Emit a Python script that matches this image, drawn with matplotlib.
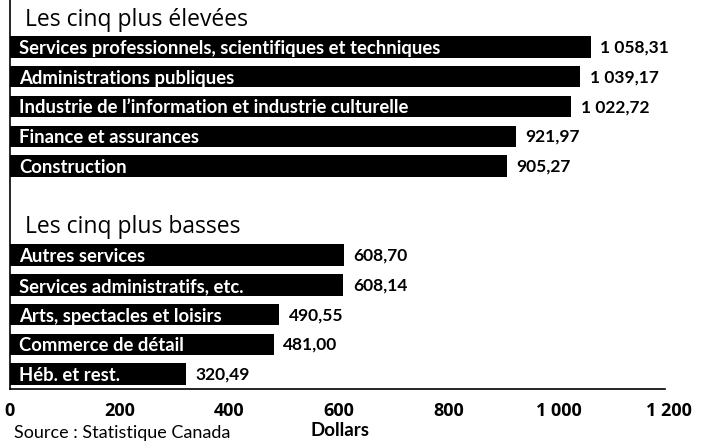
import matplotlib
matplotlib.use("Agg")
import matplotlib.pyplot as plt
from matplotlib.ticker import FixedLocator

top_title = "Les cinq plus élevées"
bottom_title = "Les cinq plus basses"
top_categories = [
    "Services professionnels, scientifiques et techniques",
    "Administrations publiques",
    "Industrie de l\u2019information et industrie culturelle",
    "Finance et assurances",
    "Construction",
]
top_values = [1058.31, 1039.17, 1022.72, 921.97, 905.27]
bottom_categories = [
    "Autres services",
    "Services administratifs, etc.",
    "Arts, spectacles et loisirs",
    "Commerce de détail",
    "Héb. et rest.",
]
bottom_values = [608.70, 608.14, 490.55, 481.00, 320.49]
x_ticks = [0, 200, 400, 600, 800, 1000, 1200]
x_tick_labels = ["0", "200", "400", "600", "800", "1 000", "1 200"]
x_label = "Dollars"
source = "Source : Statistique Canada"

NARROW = ["Lato", "DejaVu Sans"]
REG = ["Open Sans", "DejaVu Sans"]


def fmt(v):
    s = f"{v:,.2f}"
    ent, dec = s.split(".")
    return ent.replace(",", " ") + "," + dec


fig = plt.figure(figsize=(7.02, 4.44), dpi=100)
W, H = 702, 444
ax = fig.add_axes([9.5 / W, 55 / H, 659 / W, 389 / H])

top_rows = [1, 2, 3, 4, 5]
bottom_rows = [8, 9, 10, 11, 12]

for rows, cats, vals in ((top_rows, top_categories, top_values),
                         (bottom_rows, bottom_categories, bottom_values)):
    ax.barh(rows, vals, height=0.72, color="black", zorder=2)
    for r, c, v in zip(rows, cats, vals):
        ax.text(18, r + 0.05, c, color="white", fontsize=13.3, fontweight="bold",
                family=NARROW, va="center", ha="left", zorder=3)
        ax.annotate(fmt(v), (v, r + 0.02), xytext=(7, 0), textcoords="offset points",
                    fontsize=12.5, fontweight="bold", family=NARROW,
                    va="center", ha="left")

ax.text(28, 0.09, top_title, fontsize=16.5, family=REG, va="center", ha="left")
ax.text(28, 7.05, bottom_title, fontsize=16.5, family=REG, va="center", ha="left")

ax.set_xlim(0, 1200)
ax.set_ylim(12.5, -0.58)
ax.xaxis.set_major_locator(FixedLocator(x_ticks))
ax.set_xticklabels(x_tick_labels, fontsize=13, fontweight="bold", family=REG)
ax.tick_params(axis="x", length=0, pad=9)
ax.set_yticks([])
for s in ("top", "right"):
    ax.spines[s].set_visible(False)
ax.spines["left"].set_linewidth(1.2)
ax.spines["bottom"].set_linewidth(1.2)
ax.spines["bottom"].set_bounds(0, 1193)

fig.text(340 / W, 1 - 430 / H, x_label, fontsize=13.5, fontweight="bold",
         family=NARROW, ha="center", va="center")
fig.text(14 / W, 1 - 433 / H, source, fontsize=13, family=NARROW,
         ha="left", va="center")

fig.savefig("out.png", dpi=100)
